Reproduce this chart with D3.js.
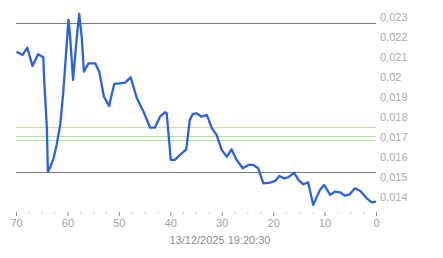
<!DOCTYPE html>
<html>
<head>
<meta charset="utf-8">
<script src="https://cdn.jsdelivr.net/npm/d3@7"></script>
<style>
  body { margin: 0; background: #fff; }
  text { font-family: "Liberation Sans", Arial, sans-serif; }
</style>
</head>
<body>
<script>
 ///////////////////////////////////////////////////////
 // data

 var ages = [69.9, 68.7, 67.8, 66.8, 65.7, 64.7, 64.5, 64.0, 63.8, 63.4,
   62.7, 62.1, 61.4, 60.8, 59.8, 59.5, 58.9, 58.2, 57.7, 57.2,
   56.8, 55.9, 54.6, 53.8, 52.9, 51.9, 50.9, 49.8, 48.8, 47.7,
   46.5, 45.2, 43.9, 43.0, 42.0, 41.0, 40.7, 39.9, 39.1, 38.1,
   36.9, 36.2, 35.6, 34.9, 33.9, 32.9, 31.9, 31.0, 30.0, 29.0,
   28.1, 27.1, 25.9, 24.8, 23.9, 22.9, 21.9, 20.6, 19.6, 18.8,
   17.9, 17.1, 15.9, 15.1, 14.1, 13.2, 12.2, 10.9, 10.1, 8.9,
   8.0, 7.0, 6.0, 5.1, 4.1, 3.1, 1.8, 0.8, 0];
 var values = [0.02129, 0.02113, 0.02149, 0.02058, 0.02116, 0.02101, 0.01979, 0.01748, 0.01529, 0.01548,
   0.01596, 0.01663, 0.01763, 0.01929, 0.02288, 0.02213, 0.01988, 0.02196, 0.02318, 0.02196,
   0.02029, 0.02071, 0.02071, 0.02029, 0.01904, 0.01858, 0.01968, 0.01971, 0.01974, 0.02001,
   0.01896, 0.01829, 0.01749, 0.01749, 0.01804, 0.01826, 0.01821, 0.01588, 0.01588, 0.01613,
   0.01641, 0.01788, 0.01818, 0.01821, 0.01804, 0.01813, 0.01746, 0.01713, 0.01638, 0.01604,
   0.01641, 0.01588, 0.01546, 0.01563, 0.01563, 0.01546, 0.01471, 0.01474, 0.01483, 0.01508,
   0.01496, 0.01501, 0.01524, 0.01488, 0.01466, 0.01476, 0.01363, 0.01438, 0.01463, 0.01413,
   0.01429, 0.01426, 0.01409, 0.01416, 0.01446, 0.01434, 0.01396, 0.01376, 0.01379];

 // reference lines
 var refValues = [0.02271, 0.01526, 0.01754, 0.01706, 0.01686];
 var refColors = ["#7a7a7a", "#7a7a7a", "#e6d288", "#b5e0a0", "#b5e0a0"];

 var xTicks = [70, 60, 50, 40, 30, 20, 10, 0];
 var yTicks = [0.023, 0.022, 0.021, 0.02, 0.019, 0.018, 0.017, 0.016, 0.015, 0.014];
 var dateLabel = "13/12/2025 19:20:30";

 var data = ages.map(function(a, i) {
   return { age: a, value: values[i] };
 });

 ///////////////////////////////////////////////////////
 // margins

 var w = 443;
 var h = 258;
 var svg = d3.select("body").append("svg")
   .attr("width", w)
   .attr("height", h);

 ///////////////////////////////////////////////////////
 // scales

 var x = d3.scaleLinear()
   .domain([70, 0])
   .range([16, 376]);
 var y = d3.scaleLinear()
   .domain([0.014, 0.023])
   .range([197.5, 17.5]);

 var fmt = function(d) {
   return String(+d.toFixed(3)).replace(".", ",");
 };

 ///////////////////////////////////////////////////////
 // plot

 // reference lines
 svg.selectAll(".ref")
   .data(refValues)
   .enter().append("line")
   .attr("x1", x(70))
   .attr("x2", x(0))
   .attr("y1", function(d) { return Math.round(y(d)) + 0.5; })
   .attr("y2", function(d) { return Math.round(y(d)) + 0.5; })
   .attr("stroke", function(d, i) { return refColors[i]; })
   .attr("stroke-width", 1);

 // x axis (ticks every 2.5, labels every 10)
 var xAxis = d3.axisBottom(x)
   .tickValues(d3.range(0, 70.1, 2.5))
   .tickSize(4)
   .tickFormat(function(d) { return xTicks.indexOf(d) >= 0 ? d : ""; });
 var gx = svg.append("g")
   .attr("transform", "translate(0,212)")
   .call(xAxis);
 gx.select(".domain").remove();
 gx.selectAll(".tick line")
   .attr("stroke", "#888")
   .attr("y2", function(d) { return d % 10 === 0 ? 4 : 1.5; })
   .attr("y1", function(d) { return d % 10 === 0 ? 0 : 0.5; });
 gx.selectAll(".tick text")
   .attr("y", 7)
   .attr("fill", "#a0a0a0")
   .style("font-size", "11px")
   .style("font-family", "Liberation Sans, Arial, sans-serif");

 // y axis labels on the right
 svg.append("g")
   .selectAll("text")
   .data(yTicks)
   .enter().append("text")
   .attr("x", 380)
   .attr("y", function(d) { return y(d); })
   .attr("dy", "0.35em")
   .attr("fill", "#aaaaaa")
   .style("font-size", "11px")
   .text(fmt);

 // date label
 svg.append("text")
   .attr("x", 220)
   .attr("y", 244)
   .attr("text-anchor", "middle")
   .attr("fill", "#8c8c8c")
   .style("font-size", "11px")
   .text(dateLabel);

 // line
 var line = d3.line()
   .x(function(d) { return x(d.age); })
   .y(function(d) { return y(d.value); });
 svg.append("path")
   .datum(data)
   .attr("d", line)
   .attr("fill", "none")
   .attr("stroke", "#2b62dc")
   .attr("stroke-width", 2.3)
   .attr("stroke-linejoin", "round");
</script>
</body>
</html>
